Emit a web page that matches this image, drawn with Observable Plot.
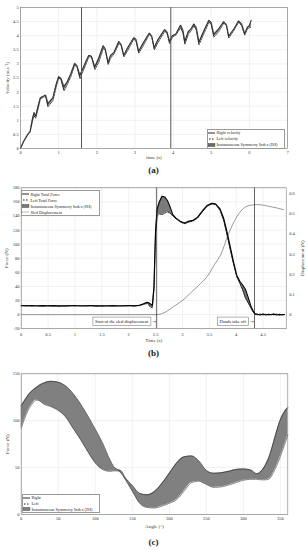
<!DOCTYPE html>
<html><head><meta charset="utf-8">
<script src="https://cdn.jsdelivr.net/npm/d3@7"></script>
<script src="https://cdn.jsdelivr.net/npm/@observablehq/plot@0.6"></script>
<style>
body{margin:0;background:#fff;}
#wrap{position:relative;width:307px;height:550px;font-family:"Liberation Serif",serif;color:#222;}
#wrap svg.plot{position:absolute;left:0;}
.cap{position:absolute;left:0;width:307px;text-align:center;font-weight:bold;font-size:9px;line-height:10px;}
.legend{position:absolute;background:#fff;border:0.5px solid #999;font-size:4.2px;box-sizing:border-box;}
.legend .row{display:flex;align-items:center;white-space:nowrap;}
</style></head><body><div id="wrap"></div>
<script>
// ---------- Panel (a): velocity ----------
const timeA = [0.00,0.10,0.20,0.25,0.32,0.36,0.40,0.46,0.52,0.60,0.66,0.72,0.85,0.93,1.00,1.06,1.14,1.22,1.32,1.42,1.48,1.56,1.64,1.72,1.79,1.86,1.95,2.05,2.17,2.22,2.30,2.36,2.45,2.58,2.64,2.71,2.80,2.97,3.03,3.10,3.20,3.38,3.44,3.51,3.60,3.78,3.84,3.91,3.98,4.07,4.20,4.26,4.31,4.40,4.46,4.55,4.61,4.68,4.80,4.94,5.00,5.07,5.20,5.33,5.40,5.46,5.60,5.72,5.80,5.88,5.95,6.00,6.05];
const velRight = [0.02,0.30,0.52,0.60,1.10,1.28,1.15,1.50,1.80,1.85,1.90,1.60,1.80,2.25,2.55,2.50,2.20,2.35,2.65,3.02,2.95,2.60,2.85,3.10,3.30,3.28,2.90,3.20,3.65,3.55,3.05,3.30,3.40,3.80,3.70,3.30,3.55,3.93,3.88,3.45,3.70,4.10,4.00,3.58,3.85,4.22,4.15,3.80,4.00,4.05,4.38,4.20,3.80,4.15,4.22,4.42,4.30,3.78,4.15,4.55,4.48,4.05,4.25,4.50,4.40,3.98,4.25,4.53,4.42,4.08,4.30,4.35,4.55];
const velLeft  = [0.00,0.28,0.50,0.58,1.00,1.15,1.08,1.40,1.75,1.82,1.85,1.48,1.70,2.15,2.50,2.45,2.05,2.25,2.55,2.95,2.90,2.48,2.75,3.00,3.25,3.25,2.80,3.05,3.55,3.50,2.98,3.20,3.35,3.72,3.65,3.25,3.45,3.88,3.80,3.38,3.60,4.05,3.95,3.50,3.75,4.15,4.10,3.72,3.95,4.02,4.28,4.10,3.70,4.05,4.15,4.35,4.20,3.68,4.05,4.48,4.40,3.95,4.15,4.45,4.35,3.92,4.20,4.48,4.35,4.02,4.25,4.28,4.30];
const eventsA = [1.6, 3.94];
const xTicksA = [0,1,2,3,4,5,6,7];
const yTicksA = [0,0.5,1,1.5,2,2.5,3,3.5,4,4.5,5];

// ---------- Panel (b): force + displacement ----------
const timeB = [0,0.1,0.2,0.3,0.4,0.5,0.6,0.7,0.8,0.9,1.0,1.1,1.2,1.3,1.4,1.5,1.6,1.7,1.8,1.9,2.0,2.1,2.2,
  2.25,2.3,2.35,2.4,2.44,2.47,2.5,2.53,2.57,2.62,2.67,2.72,2.77,2.82,2.88,2.95,3.0,3.05,3.1,3.2,3.28,3.37,3.46,3.55,3.62,3.7,3.77,3.83,3.89,3.95,4.01,4.07,4.12,4.17,4.22,4.27,4.31,4.35,4.4,4.45,4.5,4.55,4.6,4.65,4.7,4.75,4.8,4.85,4.9];
const forceRightB = [13,12.4,12.9,12.2,12.8,12.3,12.7,12.1,12.6,12.4,12.9,12.2,12.5,12.8,12.1,12.6,12.3,12.7,12.2,12.5,12.9,12.4,13.2,
  14.5,16,17.5,15.5,13,40,120,150,160,168,167,162,153,142,137,133,131,130,132,134,138,147,155,158,157,150,136,117,96,75,56,47,42,36,25,13,6,1,0.5,-0.5,0.8,-0.6,0.4,-0.3,0.7,-0.5,0.3,-0.4,0.2];
const forceLeftB = [12.3,12.9,12.1,12.7,12.2,12.8,12.3,12.6,12.2,12.9,12.4,12.7,12.1,12.6,12.8,12.2,12.7,12.4,12.6,12.1,12.7,12.3,12.8,
  14,15,16,11,10,35,115,140,143,142,144,146,144,140,136,132,130,129,131,133,137,146,154,157,156,148,133,113,92,72,54,44,35,24,17,10,4,0.5,-0.3,0.6,-0.4,0.5,-0.6,0.3,-0.2,0.6,-0.4,0.2,-0.1];
const timeDisp = [0,2.52,2.7,2.84,3.0,3.15,3.3,3.46,3.6,3.71,3.86,4.01,4.17,4.3,4.4,4.6,4.88];
const displacement = [0,0,0.015,0.041,0.07,0.107,0.145,0.189,0.25,0.296,0.403,0.485,0.534,0.544,0.546,0.538,0.521];
const eventsB = [2.52, 4.34];
const eventLabels = ["Start of the sled displacement", "Hands take off"];
const xTicksB = [0,0.5,1,1.5,2,2.5,3,3.5,4,4.5];
const yTicksB = [-20,0,20,40,60,80,100,120,140,160,180];
const dispTicks = [0,0.1,0.2,0.3,0.4,0.5,0.6];

// ---------- Panel (c): force vs angle ----------
const angleC = [0,5,10,15,20,25,30,40,50,60,70,80,90,100,110,120,125,130,135,140,150,160,170,180,190,200,210,220,230,240,250,260,270,280,290,300,310,318,325,330,335,340,345,350,355,360];
const forceRightC = [116,122,128,132,135,138,140,142,141,137,129,118,105,91,76,58,51,48,46.5,40,31,22.5,21,24.5,33,44,55,61.5,62.5,57,47,44,44.5,46,48,48.5,47.5,43.5,47,53,62,75,89,101,109,114];
const forceLeftC  = [92,103,112,118,122,121,118,115,111,104,92,80,67,55,48,46,46.5,46.5,44,38,25,12,7.5,7,9,12,16,25,34,35.5,32,29,29.5,31.5,34,36.5,37.5,37.5,37,37,38,44,52,62,73,85];
const xTicksC = [0,50,100,150,200,250,300,350];
const yTicksC = [0,50,100,150];

// ---------- layout constants ----------
const DISP_SCALE = 286; // displacement units -> force units on the shared frame
const FONT = "Liberation Serif";
const baseStyle = {fontFamily: FONT, fontSize: "4.5px", background: "transparent", color: "#333", overflow: "visible"};
const gridStyle = {stroke: "#e3e3e3", strokeOpacity: 1, strokeWidth: 0.5};
const wrap = document.getElementById("wrap");

function place(svg, top) {
  svg.classList.add("plot");
  svg.style.top = top + "px";
  wrap.appendChild(svg);
  return svg;
}
function caption(text, top) {
  const d = document.createElement("div");
  d.className = "cap"; d.style.top = top + "px"; d.textContent = text;
  wrap.appendChild(d);
}
function legend(left, top, width, rowH, items) {
  const div = document.createElement("div");
  div.className = "legend";
  div.style.left = left + "px"; div.style.top = top + "px"; div.style.width = width + "px";
  for (const it of items) {
    const row = document.createElement("div");
    row.className = "row"; row.style.height = rowH + "px";
    let sw = "";
    if (it.kind === "solid") sw = '<line x1="0" y1="2" x2="7" y2="2" stroke="#111" stroke-width="0.9"/>';
    else if (it.kind === "dash") sw = '<line x1="1" y1="2" x2="7" y2="2" stroke="#111" stroke-width="0.9" stroke-dasharray="1.6,1.4"/>';
    else if (it.kind === "thin") sw = '<line x1="0" y1="2" x2="7" y2="2" stroke="#444" stroke-width="0.6" stroke-dasharray="1,0.6"/>';
    else sw = '<rect x="0" y="0.3" width="7" height="3.4" fill="' + it.fill + '" stroke="#333" stroke-width="0.3"/>';
    row.innerHTML = '<svg width="8" height="4" style="flex:none;margin-left:0.4px">' + sw + '</svg><span>' + it.label + '</span>';
    div.appendChild(row);
  }
  wrap.appendChild(div);
}

// ---------- Panel (a) ----------
const rowsA = timeA.map((t, i) => ({t, r: velRight[i], l: velLeft[i]}));
place(Plot.plot({
  width: 307, height: 160,
  marginLeft: 20, marginRight: 20, marginTop: 7, marginBottom: 12,
  x: {domain: [0, 7]}, y: {domain: [0, 5]},
  style: baseStyle,
  marks: [
    Plot.gridX(xTicksA, gridStyle),
    Plot.gridY(yTicksA, gridStyle),
    Plot.areaY(rowsA, {x: "t", y1: "l", y2: "r", fill: "#6c6c6c"}),
    Plot.line(rowsA, {x: "t", y: "r", stroke: "#1a1a1a", strokeWidth: 0.8}),
    Plot.line(rowsA, {x: "t", y: "l", stroke: "#1a1a1a", strokeWidth: 0.8, strokeDasharray: "2,1"}),
    Plot.ruleX(eventsA, {stroke: "#555", strokeWidth: 1}),
    Plot.frame({stroke: "#777", strokeWidth: 0.6}),
    Plot.axisX(xTicksA, {tickSize: 0, tickPadding: 2.6, label: null, tickFormat: d => String(d)}),
    Plot.axisY(yTicksA, {tickSize: 0, tickPadding: 1.8, label: null, tickFormat: d => String(d)}),
    Plot.text(["time (s)"], {text: d => d, frameAnchor: "bottom", lineAnchor: "middle", textAnchor: "middle", dy: 9, fontSize: 5}),
    Plot.text(["Velocity (m.s⁻²)"], {text: d => d, frameAnchor: "left", rotate: -90, textAnchor: "middle", lineAnchor: "middle", dx: -13, fontSize: 5})
  ]
}), 0);
legend(207, 128.7, 78, 6, [
  {kind: "solid", label: "Right velocity"},
  {kind: "dash", label: "Left velocity"},
  {kind: "rect", fill: "#6c6c6c", label: "Instantaneous Symmetry Index (ISI)"}
]);
caption("(a)", 164.5);

// ---------- Panel (b) ----------
const rowsB = timeB.map((t, i) => ({t, r: forceRightB[i], l: forceLeftB[i]}));
const rowsDisp = timeDisp.map((t, i) => ({t, d: displacement[i] * DISP_SCALE}));
const annots = eventsB.map((t, i) => ({t, label: eventLabels[i], y: -9.4}));
const svgB = place(Plot.plot({
  width: 307, height: 165,
  marginLeft: 20.7, marginRight: 21.3, marginTop: 7.3, marginBottom: 16.8,
  x: {domain: [0, 4.93]}, y: {domain: [-20, 180]},
  style: baseStyle,
  marks: [
    Plot.gridX(xTicksB, gridStyle),
    Plot.gridY(yTicksB, gridStyle),
    Plot.areaY(rowsB, {x: "t", y1: "l", y2: "r", fill: "#7a7a7a"}),
    Plot.line(rowsDisp, {x: "t", y: "d", stroke: "#555", strokeWidth: 0.6, curve: "monotone-x"}),
    Plot.line(rowsB, {x: "t", y: "l", stroke: "#111", strokeWidth: 0.9, strokeDasharray: "2,1"}),
    Plot.line(rowsB, {x: "t", y: "r", stroke: "#000", strokeWidth: 1.1}),
    Plot.ruleX(eventsB, {stroke: "#222", strokeWidth: 0.7}),
    Plot.frame({stroke: "#777", strokeWidth: 0.6}),
    Plot.axisX(xTicksB, {tickSize: 0, tickPadding: 3.6, label: null, tickFormat: d => String(d)}),
    Plot.axisY(yTicksB, {tickSize: 0, tickPadding: 1.8, label: null, tickFormat: d => String(d)}),
    Plot.axisY(dispTicks.map(v => v * DISP_SCALE), {anchor: "right", tickSize: 0, tickPadding: 3, label: null,
      tickFormat: v => { const d = v / DISP_SCALE; return d === 0 ? "0" : d.toFixed(1); }}),
    Plot.text(annots, {x: "t", y: "y", text: "label", textAnchor: "end", dx: -8.5, fontSize: 4.5, fill: "#222"}),
    Plot.text(annots, {x: "t", y: "y", text: () => "→", textAnchor: "end", dx: -0.6, fontSize: 4.5, fontFamily: "DejaVu Sans", fill: "#222"}),
    Plot.text(["Time (s)"], {text: d => d, frameAnchor: "bottom", lineAnchor: "middle", textAnchor: "middle", dy: 11.8, fontSize: 5}),
    Plot.text(["Force (N)"], {text: d => d, frameAnchor: "left", rotate: -90, textAnchor: "middle", lineAnchor: "middle", dx: -14.5, fontSize: 5}),
    Plot.text(["Displacement (N)"], {text: d => d, frameAnchor: "right", rotate: -90, textAnchor: "middle", lineAnchor: "middle", dx: 16.3, fontSize: 5})
  ]
}), 180);
// draw a box around each event annotation
svgB.querySelectorAll("text").forEach(t => {
  if (!eventLabels.includes(t.textContent)) return;
  const bb = t.getBBox();
  const r = document.createElementNS("http://www.w3.org/2000/svg", "rect");
  r.setAttribute("x", bb.x - 2); r.setAttribute("y", bb.y - 1.6);
  r.setAttribute("width", bb.width + 4); r.setAttribute("height", bb.height + 3.2);
  r.setAttribute("fill", "#fff"); r.setAttribute("stroke", "#666"); r.setAttribute("stroke-width", "0.5");
  if (t.getAttribute("transform")) r.setAttribute("transform", t.getAttribute("transform"));
  t.parentNode.insertBefore(r, t);
});
legend(21, 190.3, 79, 6, [
  {kind: "solid", label: "Right Total Force"},
  {kind: "dash", label: "Left Total Force"},
  {kind: "rect", fill: "#7a7a7a", label: "Instantaneous Symmetry Index (ISI)"},
  {kind: "thin", label: "Sled Displacement"}
]);
caption("(b)", 347.5);

// ---------- Panel (c) ----------
const rowsC = angleC.map((a, i) => ({a, r: forceRightC[i], l: forceLeftC[i]}));
place(Plot.plot({
  width: 307, height: 166,
  marginLeft: 20.7, marginRight: 19.7, marginTop: 7.3, marginBottom: 18,
  x: {domain: [0, 360]}, y: {domain: [0, 150]},
  style: baseStyle,
  marks: [
    Plot.gridX(xTicksC, gridStyle),
    Plot.gridY(yTicksC, gridStyle),
    Plot.areaY(rowsC, {x: "a", y1: "l", y2: "r", fill: "#808080", curve: "monotone-x"}),
    Plot.line(rowsC, {x: "a", y: "r", stroke: "#333", strokeWidth: 0.7, curve: "monotone-x"}),
    Plot.line(rowsC, {x: "a", y: "l", stroke: "#333", strokeWidth: 0.6, strokeDasharray: "2,0.6", curve: "monotone-x"}),
    Plot.frame({stroke: "#777", strokeWidth: 0.6}),
    Plot.axisX(xTicksC, {tickSize: 0, tickPadding: 2.2, label: null, tickFormat: d => String(d)}),
    Plot.axisY(yTicksC, {tickSize: 0, tickPadding: 1.8, label: null, tickFormat: d => String(d)}),
    Plot.text(["Angle (°)"], {text: d => d, frameAnchor: "bottom", lineAnchor: "middle", textAnchor: "middle", dy: 12, fontSize: 5}),
    Plot.text(["Force (N)"], {text: d => d, frameAnchor: "left", rotate: -90, textAnchor: "middle", lineAnchor: "middle", dx: -13.7, fontSize: 5})
  ]
}), 366);
legend(22, 494, 78, 5.7, [
  {kind: "solid", label: "Right"},
  {kind: "dash", label: "Left"},
  {kind: "rect", fill: "#808080", label: "Instantaneous Symmetry Index (ISI)"}
]);
caption("(c)", 537);
</script></body></html>
